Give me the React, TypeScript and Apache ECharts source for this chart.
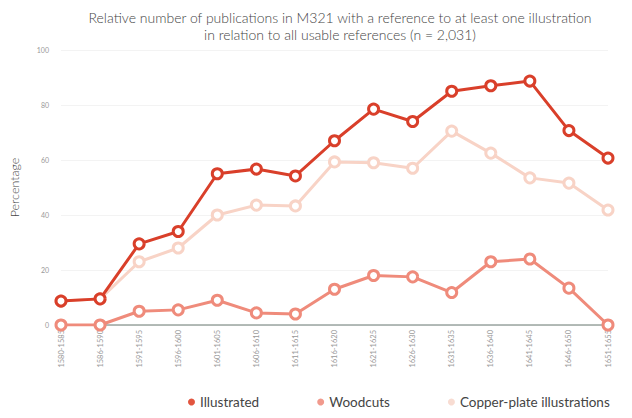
import React, { useEffect, useRef } from "react";
import * as echarts from "echarts";

const categories = [
  "1580-1585", "1586-1590", "1591-1595", "1596-1600", "1601-1605",
  "1606-1610", "1611-1615", "1616-1620", "1621-1625", "1626-1630",
  "1631-1635", "1636-1640", "1641-1645", "1646-1650", "1651-1655",
];
const illustrated = [8.7, 9.5, 29.5, 34, 55, 56.7, 54.2, 67, 78.5, 74, 85, 87, 88.7, 70.7, 60.7];
const woodcuts = [0, 0, 5, 5.5, 9, 4.4, 4, 13, 18, 17.5, 11.8, 23, 24, 13.4, 0];
const copperPlate = [8.7, 9.5, 23, 28, 40, 43.6, 43.3, 59.3, 59, 57, 70.5, 62.5, 53.5, 51.6, 41.8];

const FONT = "Lato, 'Open Sans', sans-serif";

export default function App() {
  const ref = useRef<HTMLDivElement>(null);
  useEffect(() => {
    if (!ref.current) return;
    const chart = echarts.init(ref.current, undefined, { renderer: "svg" });
    const mk = (name: string, data: number[], color: string, z: number) => ({
      name,
      type: "line",
      data,
      z,
      symbol: "circle",
      symbolSize: 10,
      itemStyle: { color: "#fff", borderColor: color, borderWidth: 3 },
      lineStyle: { color, width: 3 },
    });
    chart.setOption({
      animation: false,
      backgroundColor: "#fff",
      title: {
        text: "Relative number of publications in M321 with a reference to at least one illustration\nin relation to all usable references (n = 2,031)",
        left: 335,
        textAlign: "center",
        top: 4,
        textStyle: { fontFamily: FONT, fontSize: 14, fontWeight: 300, color: "#444", lineHeight: 17 },
      },
      legend: {
        bottom: 4,
        left: 183,
        itemGap: 58,
        itemWidth: 7,
        itemHeight: 7,
        icon: "circle",
        textStyle: { fontFamily: FONT, fontSize: 13.5, color: "#444" },
        data: [
          { name: "Illustrated", itemStyle: { color: "#e2553f", borderWidth: 0 } },
          { name: "Woodcuts", itemStyle: { color: "#f19a8d", borderWidth: 0 } },
          { name: "Copper-plate illustrations", itemStyle: { color: "#f8dcd2", borderWidth: 0 } },
        ],
      },
      grid: { left: 58, right: 24, top: 50, bottom: 93 },
      xAxis: {
        type: "category",
        data: categories,
        boundaryGap: false,
        axisLine: { lineStyle: { color: "#9aa5a0", width: 1.5 } },
        axisTick: { show: false },
        axisLabel: { rotate: 90, fontSize: 7.5, color: "#999", fontFamily: FONT, margin: 5, interval: 0 },
      },
      yAxis: {
        type: "value",
        min: 0,
        max: 100,
        interval: 20,
        name: "Percentage",
        nameLocation: "middle",
        nameGap: 40,
        nameRotate: 90,
        nameTextStyle: { fontFamily: FONT, fontSize: 12.5, color: "#444", fontWeight: 300 },
        axisLine: { show: false },
        axisTick: { show: false },
        splitLine: { lineStyle: { color: "#f3f3f3" } },
        axisLabel: { fontSize: 7, color: "#999", fontFamily: FONT, margin: 12 },
      },
      series: [
        mk("Copper-plate illustrations", copperPlate, "#f8d3c6", 2),
        mk("Woodcuts", woodcuts, "#ef8b7b", 3),
        mk("Illustrated", illustrated, "#d93f2a", 4),
      ],
    });
    return () => chart.dispose();
  }, []);
  return <div ref={ref} style={{ width: 632, height: 418, position: "absolute", left: 0, top: 0 }} />;
}
